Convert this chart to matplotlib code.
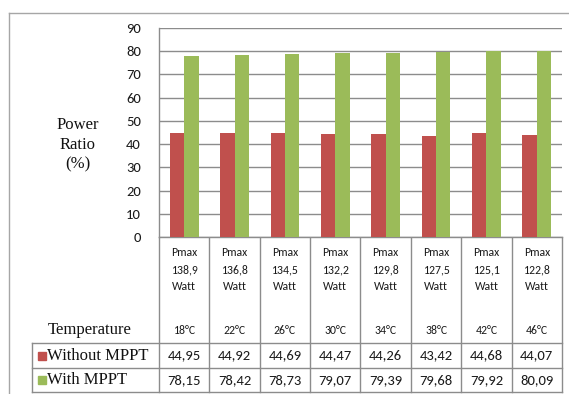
import matplotlib.pyplot as plt
from matplotlib import transforms
from matplotlib.patches import Rectangle
import numpy as np

# power ratio data per irradiation/temperature step
pmax = ['138,9', '136,8', '134,5', '132,2', '129,8', '127,5', '125,1', '122,8']
temps = ['18°C', '22°C', '26°C', '30°C', '34°C', '38°C', '42°C', '46°C']
without_mppt = [44.95, 44.92, 44.69, 44.47, 44.26, 43.42, 44.68, 44.07]
with_mppt = [78.15, 78.42, 78.73, 79.07, 79.39, 79.68, 79.92, 80.09]
series_names = ['Without MPPT', 'With MPPT']
yticks = list(range(0, 100, 10))

red = '#C0504D'
green = '#9BBB59'
line_c = '#8c8c8c'
serif = ['Liberation Serif', 'DejaVu Serif']
sans = ['Carlito', 'DejaVu Sans']

W, H = 569, 394
fig = plt.figure(figsize=(W / 100, H / 100), dpi=100)

# pixel overlay for table lines and frame
ov = fig.add_axes([0, 0, 1, 1])
ov.set_xlim(0, W)
ov.set_ylim(H, 0)
ov.axis('off')

# plot area
left, right, top, bottom = 159, 562, 28, 237
ax = fig.add_axes([left / W, 1 - bottom / H, (right - left) / W, (bottom - top) / H])

n = len(pmax)
x = np.arange(n)
bw = 1 / 3.5
ax.bar(x - bw / 2, without_mppt, bw, color=red, zorder=3)
ax.bar(x + bw / 2, with_mppt, bw, color=green, zorder=3)

ax.set_xlim(-0.5, n - 0.5)
ax.set_ylim(0, 90)
ax.set_yticks(yticks)
ax.set_xticks([])
ax.yaxis.grid(True, color=line_c, lw=1.0)
ax.set_axisbelow(True)
ax.tick_params(axis='y', length=0, pad=13, labelsize=10.5, labelcolor='#1a1a1a')
for lab in ax.get_yticklabels():
    lab.set_fontfamily(sans)
for s in ['top', 'right']:
    ax.spines[s].set_visible(False)
for s in ['left', 'bottom']:
    ax.spines[s].set_color(line_c)
    ax.spines[s].set_linewidth(1.0)

ov.text(78, 145, 'Power\nRatio\n(%)', ha='center', va='center', family=serif,
        fontsize=12, linespacing=1.3, color='#111111')

# outer chart frame
ov.plot([9, 9], [13, H], color='#a6a6a6', lw=1.0)
ov.plot([9, W], [13, 13], color='#a6a6a6', lw=1.0)

# data table below the bars
row1, row2, row3 = 343, 368, 392
label_left = 32
col_w = (right - left) / n
for i in range(n + 1):
    cx = left + i * col_w
    ov.plot([cx, cx], [bottom, row3], color=line_c, lw=1.0)
for ry in (row1, row2, row3):
    ov.plot([label_left, right], [ry, ry], color=line_c, lw=1.0)
ov.plot([label_left, label_left], [row1, row3], color=line_c, lw=1.0)

# category text uses bar x positions, pixel y positions
bt = transforms.blended_transform_factory(ax.transData, ov.transData)
cat_kw = dict(transform=bt, ha='center', va='center', family=sans, fontsize=8.5, color='#1a1a1a')
val_kw = dict(transform=bt, ha='center', va='center', family=sans, fontsize=10.5, color='#1a1a1a')
for i in range(n):
    ax.text(x[i], 252, 'Pmax', **cat_kw)
    ax.text(x[i], 269.5, pmax[i], **cat_kw)
    ax.text(x[i], 287, 'Watt', **cat_kw)
    ax.text(x[i], 330, temps[i], **cat_kw)
    ax.text(x[i], (row1 + row2) / 2, f'{without_mppt[i]:.2f}'.replace('.', ','), **val_kw)
    ax.text(x[i], (row2 + row3) / 2, f'{with_mppt[i]:.2f}'.replace('.', ','), **val_kw)

ov.text(90, 330, 'Temperature', ha='center', va='center', family=serif, fontsize=12, color='#111111')

for (r0, r1), name, c in zip([(row1, row2), (row2, row3)], series_names, [red, green]):
    cy = (r0 + r1) / 2
    ov.add_patch(Rectangle((38, cy - 4), 8, 8, color=c))
    ov.text(47, cy, name, ha='left', va='center', family=serif, fontsize=12, color='#111111')

fig.savefig('out.png', dpi=100, facecolor='white')
